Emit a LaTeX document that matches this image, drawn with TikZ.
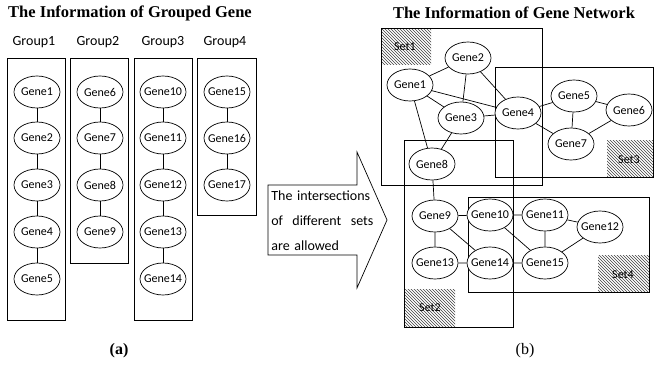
\documentclass[tikz,border=0pt]{standalone}
\usepackage{fontspec}
\setmainfont{Liberation Serif}
\setsansfont{Carlito}
\usetikzlibrary{shapes.geometric,patterns}

\begin{document}
\begin{tikzpicture}[x=1pt,y=-1pt,line width=.7pt,font=\sffamily\fontsize{12}{14}\selectfont,gene/.style={draw,ellipse,fill=white,minimum width=46pt,minimum height=32pt,inner sep=-6pt},grp/.style={font=\sffamily\fontsize{14}{16}\selectfont},title/.style={font=\rmfamily\bfseries\fontsize{16.5}{18}\selectfont},hatch/.style={pattern=north west lines,pattern color=black!75}]
\useasboundingbox (0,0) rectangle (654,367);
\node[title] (ta) at (130,13) {The Information of Grouped Gene};
\node[title] (tb) at (514,13) {The Information of Gene Network};
\node[grp] (l1) at (34,42) {Group1};
\node[grp] (l2) at (98,42) {Group2};
\node[grp] (l3) at (163,42) {Group3};
\node[grp] (l4) at (225,42) {Group4};
\draw (7,58) rectangle (65,320);
\draw (70,58) rectangle (128,263);
\draw (134,58) rectangle (192,320);
\draw (197,58) rectangle (256,215);
\node[gene] (g1) at (37,92) {Gene1};
\node[gene] (g2) at (37,138) {Gene2};
\node[gene] (g3) at (37,185) {Gene3};
\node[gene] (g4) at (37,232) {Gene4};
\node[gene] (g5) at (37,279) {Gene5};
\node[gene] (g6) at (100,92) {Gene6};
\node[gene] (g7) at (100,138) {Gene7};
\node[gene] (g8) at (100,185) {Gene8};
\node[gene] (g9) at (100,232) {Gene9};
\node[gene] (g10) at (163,92) {Gene10};
\node[gene] (g11) at (163,138) {Gene11};
\node[gene] (g12) at (163,185) {Gene12};
\node[gene] (g13) at (163,232) {Gene13};
\node[gene] (g14) at (163,279) {Gene14};
\node[gene] (g15) at (227,92) {Gene15};
\node[gene] (g16) at (227,138) {Gene16};
\node[gene] (g17) at (227,185) {Gene17};
\draw (g1)--(g2)--(g3)--(g4)--(g5);
\draw (g6)--(g7)--(g8)--(g9);
\draw (g10)--(g11)--(g12)--(g13)--(g14);
\draw (g15)--(g16)--(g17);
\node[font=\rmfamily\bfseries\fontsize{16}{18}\selectfont] (ca) at (119,351) {(a)};
\draw (268,185)--(357,185)--(357,152)--(387,220)--(357,288)--(357,255)--(268,255)--cycle;
\node[anchor=west,align=left,text width=102pt,inner sep=0pt,font=\sffamily\fontsize{14}{25}\selectfont] (msg) at (271,221) {The intersections\\of\hfill different\hfill sets\\are allowed};
\fill[hatch] (381,28) rectangle (431,64);
\fill[hatch] (607,140) rectangle (653,177);
\fill[hatch] (404,289) rectangle (455,327);
\fill[hatch] (598,255) rectangle (649,292);
\node (s1) at (405,47) {Set1};
\node (s3) at (629,160) {Set3};
\node (s2) at (430,308) {Set2};
\node (s4) at (623,275) {Set4};
\draw (381,28) rectangle (542,185);
\draw (495,67) rectangle (653,177);
\draw (404,140) rectangle (513,327);
\draw (468,197) rectangle (649,292);
\node[gene] (n1) at (410,85) {Gene1};
\node[gene] (n2) at (468,58) {Gene2};
\node[gene] (n3) at (461,118) {Gene3};
\node[gene] (n4) at (518,113) {Gene4};
\node[gene] (n5) at (574,96) {Gene5};
\node[gene] (n6) at (629,110) {Gene6};
\node[gene] (n7) at (571,144) {Gene7};
\node[gene] (n8) at (432,164) {Gene8};
\node[gene] (n9) at (435,216) {Gene9};
\node[gene] (n10) at (490,215) {Gene10};
\node[gene] (n11) at (545,215) {Gene11};
\node[gene] (n12) at (600,227) {Gene12};
\node[gene] (n13) at (435,263) {Gene13};
\node[gene] (n14) at (490,263) {Gene14};
\node[gene] (n15) at (545,263) {Gene15};
\draw (n1)--(n2) (n1)--(n3) (n1)--(n4) (n1)--(n8) (n2)--(n3) (n2)--(n4) (n3)--(n4) (n3)--(n8);
\draw (n4)--(n5) (n4)--(n7) (n5)--(n6) (n5)--(n7) (n6)--(n7) (n8)--(n9);
\draw (n9)--(n10) (n9)--(n13) (n9)--(n14) (n10)--(n11) (n10)--(n15) (n11)--(n15) (n11)--(n12) (n12)--(n15) (n13)--(n14) (n14)--(n15);
\node[font=\rmfamily\fontsize{16}{18}\selectfont] (cb) at (525,351) {(b)};
\end{tikzpicture}
\end{document}
